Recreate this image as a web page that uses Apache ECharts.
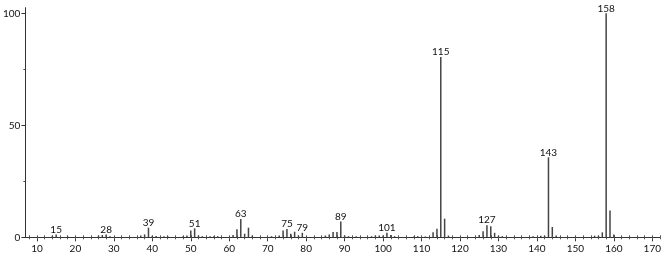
<!DOCTYPE html>
<html><head><meta charset="utf-8">
<script src="https://cdn.jsdelivr.net/npm/echarts@6/dist/echarts.min.js"></script>
<style>html,body{margin:0;padding:0;background:#fff}#c{width:666px;height:254px}</style>
</head><body><div id="c"></div>
<script>
const mz = [14,15,18,26,27,28,29,37,38,39,40,41,43,44,48,49,50,51,52,53,55,56,57,
  61,62,63,64,65,66,71,73,74,75,76,77,78,79,85,86,87,88,89,90,91,93,97,98,99,100,101,102,103,
  108,109,111,113,114,115,116,117,125,126,127,128,129,130,131,139,141,142,143,144,145,155,156,157,158,159,160];
const intensity = [0.7,1.2,0.4,0.8,1.0,1.3,0.5,0.8,1.3,4.3,0.7,0.6,0.5,0.5,0.5,0.8,3.0,4.0,0.8,0.5,0.5,0.5,0.5,
  1.0,3.6,8.2,1.6,4.3,0.8,0.5,0.8,3.0,3.7,1.6,2.5,0.8,2.0,0.8,1.3,2.4,2.4,7.0,0.8,0.5,0.5,0.5,0.8,0.8,0.8,2.0,1.0,0.5,
  0.4,0.5,0.4,2.3,3.8,80.5,8.3,0.8,1.0,2.7,5.4,4.9,2.0,0.7,0.5,0.5,0.7,0.7,35.7,4.6,0.8,0.7,0.7,2.2,100,12.0,1.2];
const labeledPeaks = [15,28,39,51,63,75,79,89,101,115,127,143,158];
const xTickLabels = [10,20,30,40,50,60,70,80,90,100,110,120,130,140,150,160,170];
const xMinorTicks = [];
for (let v = 8; v <= 172; v += 2) xMinorTicks.push(v);
const yTickLabels = [0,50,100];
const yMinorTicks = [25,75];

const font = 'Lato, "DejaVu Sans", sans-serif';
const data = mz.map((m,i) => labeledPeaks.includes(m)
  ? {value:[m,intensity[i]], label:{show:true}}
  : {value:[m,intensity[i]]});

const chart = echarts.init(document.getElementById('c'), null, {renderer:'canvas'});
const xBase = {type:'value', min:7, max:172, position:'bottom', splitLine:{show:false}};
chart.setOption({
  animation:false,
  grid:{left:25, right:6, top:7.7, bottom:16.7, containLabel:false},
  xAxis:[
    Object.assign({}, xBase, {
      axisLine:{show:true, lineStyle:{color:'#333', width:1}},
      axisTick:{show:true, length:4, lineStyle:{color:'#333'}, customValues:xTickLabels},
      axisLabel:{show:true, color:'#111', fontSize:10, fontFamily:font, margin:6, customValues:xTickLabels}
    }),
    Object.assign({}, xBase, {
      axisLine:{show:false},
      axisTick:{show:true, length:2, lineStyle:{color:'#555'}, customValues:xMinorTicks},
      axisLabel:{show:false}
    }),
    Object.assign({}, xBase, {
      axisLine:{show:false},
      axisTick:{show:true, inside:true, length:2, lineStyle:{color:'#555'}, customValues:xMinorTicks},
      axisLabel:{show:false}
    })
  ],
  yAxis:[
    {type:'value', min:0, max:102.5, splitLine:{show:false},
     axisLine:{show:true, lineStyle:{color:'#333', width:1}},
     axisTick:{show:true, length:4, lineStyle:{color:'#333'}, customValues:yTickLabels},
     axisLabel:{show:true, color:'#111', fontSize:10, fontFamily:font, margin:5, customValues:yTickLabels}
    },
    {type:'value', min:0, max:102.5, position:'left', splitLine:{show:false},
     axisLine:{show:false},
     axisTick:{show:true, length:2, lineStyle:{color:'#444'}, customValues:yMinorTicks},
     axisLabel:{show:false}
    }
  ],
  series:[{
    type:'bar', xAxisIndex:0, yAxisIndex:0,
    barWidth:1.5,
    itemStyle:{color:'#444'},
    label:{show:false, position:'top', distance:0, color:'#111', fontSize:10, fontFamily:font,
      formatter: p => String(p.value[0])},
    data:data
  }]
});
</script></body></html>
